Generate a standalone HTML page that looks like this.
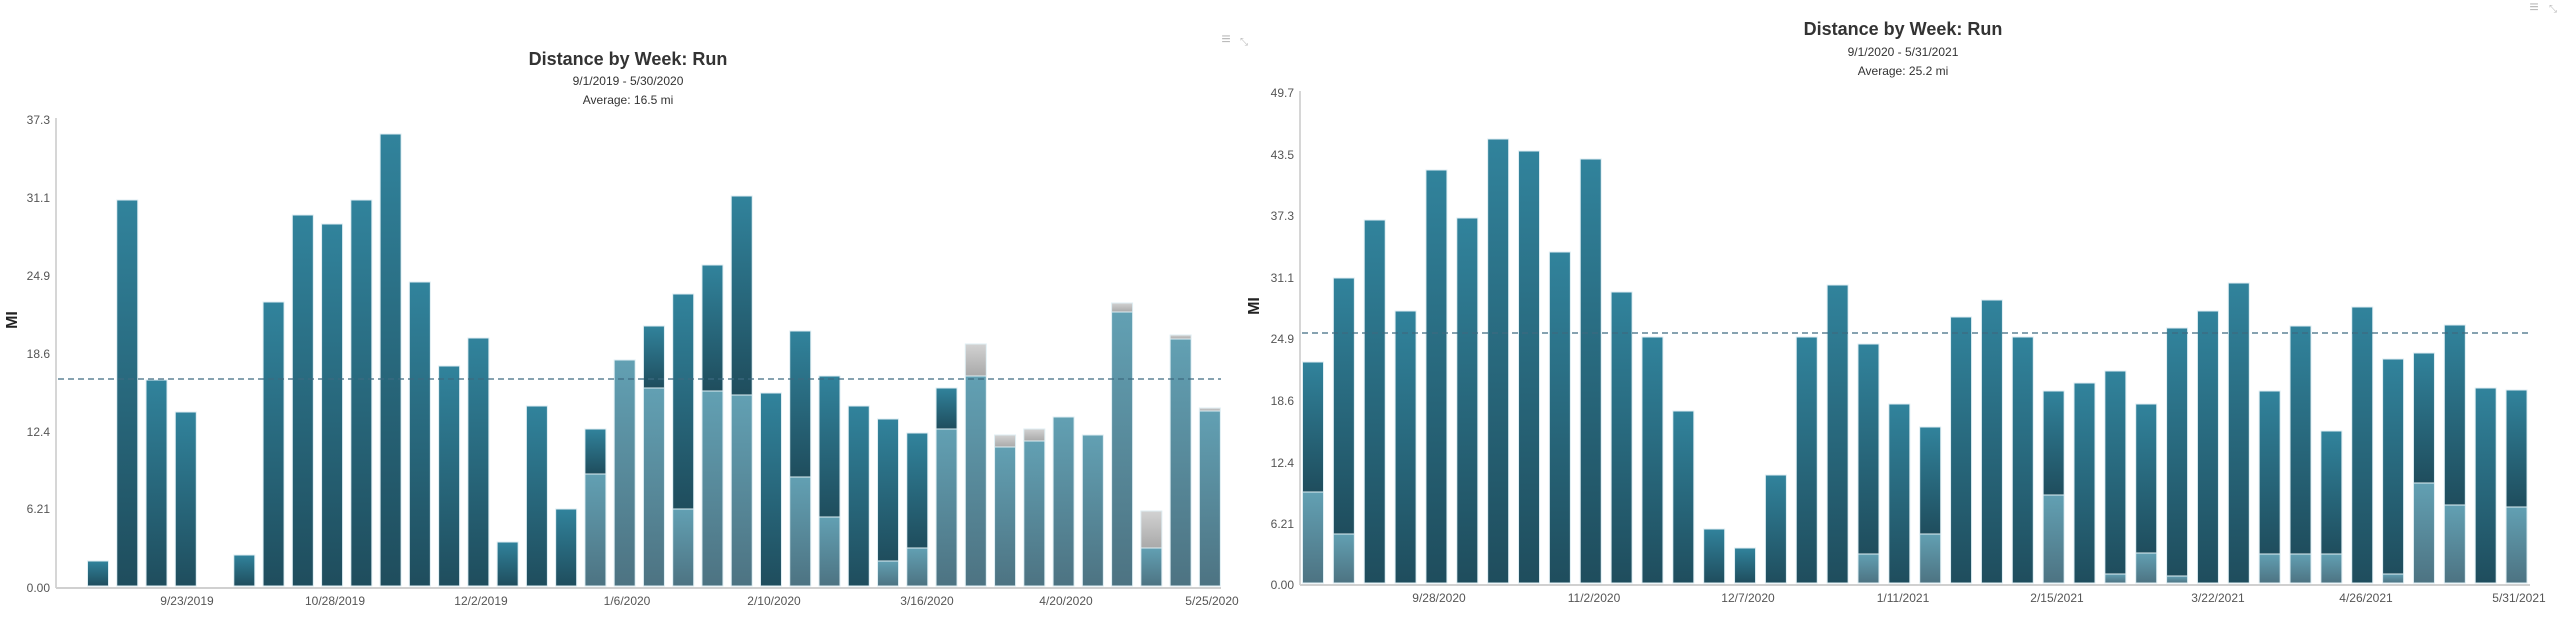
<!DOCTYPE html>
<html><head><meta charset="utf-8"><style>
html,body{margin:0;padding:0;background:#fff;width:2560px;height:627px;overflow:hidden}
svg{display:block}
text{font-family:"Liberation Sans",Arial,sans-serif}
</style></head><body>
<svg id="s" width="2560" height="627" xmlns="http://www.w3.org/2000/svg">
<defs>
<linearGradient id="gd" x1="0" y1="0" x2="0" y2="1"><stop offset="0" stop-color="#31839c"/><stop offset="1" stop-color="#1f4d5d"/></linearGradient>
<linearGradient id="gl" x1="0" y1="0" x2="0" y2="1"><stop offset="0" stop-color="#62a0b3"/><stop offset="1" stop-color="#4d7382"/></linearGradient>
<linearGradient id="gg" x1="0" y1="0" x2="0" y2="1"><stop offset="0" stop-color="#d2d2d2"/><stop offset="1" stop-color="#a9a9a9"/></linearGradient>
</defs>
<!-- Chart 1 text -->
<text x="628" y="65" text-anchor="middle" font-size="18" font-weight="bold" fill="#333">Distance by Week: Run</text>
<text x="628" y="85" text-anchor="middle" font-size="12" fill="#333">9/1/2019 - 5/30/2020</text>
<text x="628" y="104" text-anchor="middle" font-size="12" fill="#333">Average: 16.5 mi</text>
<text x="1226" y="44" text-anchor="middle" font-size="16" fill="#bbb">≡</text>
<text x="1244" y="45" text-anchor="middle" font-size="10" fill="#bbb">⤡</text>
<text transform="translate(17,320) rotate(-90)" text-anchor="middle" font-size="16" font-weight="bold" fill="#222">MI</text>
<!-- Chart 2 text -->
<text x="1903" y="35" text-anchor="middle" font-size="18" font-weight="bold" fill="#333">Distance by Week: Run</text>
<text x="1903" y="56" text-anchor="middle" font-size="12" fill="#333">9/1/2020 - 5/31/2021</text>
<text x="1903" y="75" text-anchor="middle" font-size="12" fill="#333">Average: 25.2 mi</text>
<text x="2534" y="12" text-anchor="middle" font-size="16" fill="#bbb">≡</text>
<text x="2553" y="12" text-anchor="middle" font-size="10" fill="#bbb">⤡</text>
<text transform="translate(1259,306) rotate(-90)" text-anchor="middle" font-size="16" font-weight="bold" fill="#222">MI</text>
<g id="g"></g>
</svg>
<script>
var NS="http://www.w3.org/2000/svg",G=document.getElementById('g');
function el(n,a,t){var e=document.createElementNS(NS,n);for(var k in a)e.setAttribute(k,a[k]);if(t!=null)e.textContent=t;G.appendChild(e);return e;}
function chart(o){
 // axes
 el('line',{x1:o.ax,y1:o.top-2,x2:o.ax,y2:o.base,stroke:'#d6d6d6','stroke-width':2});
 el('line',{x1:o.ax,y1:o.base,x2:o.xend,y2:o.base,stroke:'#d0d0d0','stroke-width':2});
 o.ticks.forEach(function(t){el('text',{x:o.ax-6,y:t[1]+4,'text-anchor':'end','font-size':12,fill:'#555'},t[0]);});
 o.dates.forEach(function(d){el('text',{x:d[1],y:o.base+17,'text-anchor':'middle','font-size':12,fill:'#555'},d[0]);});
 var bot=o.base-2;
 o.bars.forEach(function(b,k){
  if(!b)return;
  var c=o.c0+o.p*k,x=c-10.5,w=21,t=b[0],l=b[1],gray=b[2];
  function r(y1,y2,f){if(y2-y1<=0)return;el('rect',{x:x,y:y1,width:w,height:y2-y1,fill:'url(#'+f+')',stroke:'#dfeef3','stroke-width':1});}
  if(gray){r(t,l,'gg');r(l,bot,'gl');}
  else if(l==null){r(t,bot,'gd');}
  else if(l<=t){r(t,bot,'gl');}
  else{r(t,l,'gd');r(l,bot,'gl');}
 });
 el('line',{x1:o.ax+2,y1:o.avg,x2:o.xend,y2:o.avg,stroke:'#3d6a80','stroke-width':1.3,'stroke-dasharray':'6,4'});
}
chart({ax:56,top:120,base:588,xend:1221,avg:379,c0:98,p:29.26,
 ticks:[['37.3',120],['31.1',198],['24.9',276],['18.6',354],['12.4',432],['6.21',509],['0.00',588]],
 dates:[['9/23/2019',187],['10/28/2019',335],['12/2/2019',481],['1/6/2020',627],['2/10/2020',774],['3/16/2020',927],['4/20/2020',1066],['5/25/2020',1212]],
 bars:[[561],[200],[380],[412],null,[555],[302],[215],[224],[200],[134],[282],[366],[338],[542],[406],[509],
 [429,474],[360,360],[326,388],[294,509],[265,391],[196,395],[393],[331,477],[376,517],[406],[419,561],[433,548],[388,429],
 [344,376,1],[435,447,1],[429,441,1],[417,417],[435,435],[303,312,1],[511,548,1],[335,339,1],[408,411,1]]});
chart({ax:1300,top:93,base:585,xend:2530,avg:333,c0:1313,p:30.86,
 ticks:[['49.7',93],['43.5',155],['37.3',216],['31.1',278],['24.9',339],['18.6',401],['12.4',463],['6.21',524],['0.00',585]],
 dates:[['9/28/2020',1439],['11/2/2020',1594],['12/7/2020',1748],['1/11/2021',1903],['2/15/2021',2057],['3/22/2021',2218],['4/26/2021',2366],['5/31/2021',2519]],
 bars:[[362,492],[278,534],[220],[311],[170],[218],[139],[151],[252],[159],[292],[337],[411],[529],[548],[475],[337],[285],[344,554],[404],
 [427,534],[317],[300],[337],[391,495],[383],[371,574],[404,553],[328,576],[311],[283],[391,554],[326,554],[431,554],[307],[359,574],[353,483],[325,505],[388],[390,507]]});
</script>
</body></html>
